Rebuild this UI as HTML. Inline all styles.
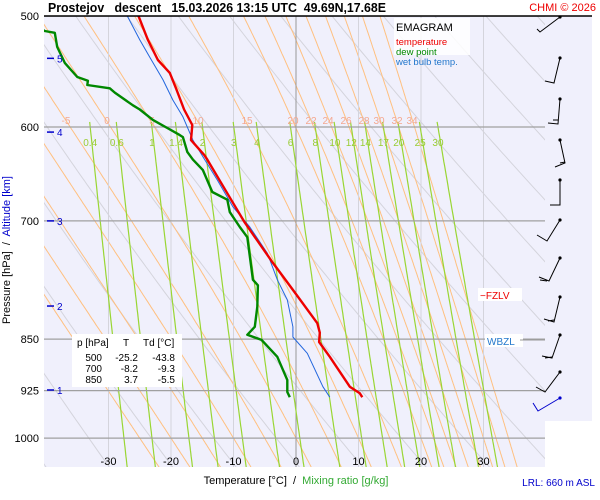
<!DOCTYPE html>
<html><head><meta charset="utf-8"><style>
body{margin:0;background:#fff;}
svg{display:block;font-family:"Liberation Sans",sans-serif;}
</style></head><body>
<svg id="c" width="600" height="500" viewBox="0 0 600 500">
<defs><clipPath id="clip"><rect x="44" y="16" width="501" height="451"/></clipPath></defs>
<rect x="44" y="16" width="501" height="451" fill="#f0f0fc"/>
<rect x="545" y="16" width="47" height="405" fill="#f0f0fc"/>
<g id="grid" clip-path="url(#clip)"></g>
<g id="series" clip-path="url(#clip)"></g>
<g id="labels"></g>
<line x1="44" y1="16" x2="592" y2="16" stroke="#000" stroke-width="1.5"/>
<text x="48" y="12" font-size="13" font-weight="bold" style="white-space:pre" textLength="338" lengthAdjust="spacingAndGlyphs">Prostejov   descent   15.03.2026 13:15 UTC  49.69N,17.68E</text>
<text x="596" y="11" font-size="11" fill="#e00" text-anchor="end">CHMI © 2026</text>
<g>
<rect x="394" y="18" width="76" height="37" fill="#fff" fill-opacity="0.85"/>
<text x="396" y="31" font-size="11">EMAGRAM</text>
<text x="396" y="45" font-size="9.5" fill="#e00">temperature</text>
<text x="396" y="55" font-size="9.5" fill="#080">dew point</text>
<text x="396" y="65" font-size="9.5" fill="#27c">wet bulb temp.</text>
</g>
<g font-size="10">
<rect x="72" y="334" width="110" height="53" fill="#fff"/>
<text x="77" y="346">p [hPa]</text><text x="123" y="346">T</text><text x="143" y="346">Td [°C]</text>
<text x="102" y="361" text-anchor="end">500</text><text x="138" y="361" text-anchor="end">-25.2</text><text x="175" y="361" text-anchor="end">-43.8</text>
<text x="102" y="372" text-anchor="end">700</text><text x="138" y="372" text-anchor="end">-8.2</text><text x="175" y="372" text-anchor="end">-9.3</text>
<text x="102" y="383" text-anchor="end">850</text><text x="138" y="383" text-anchor="end">3.7</text><text x="175" y="383" text-anchor="end">-5.5</text>
</g>
<g><rect x="478" y="288" width="44" height="13" fill="#fff"/><text x="480" y="299" font-size="10" fill="#e00">−FZLV</text></g>
<g><rect x="485" y="334" width="38" height="13" fill="#fff"/><line x1="520" y1="340" x2="545" y2="340" stroke="#999"/><text x="487" y="345" font-size="10" fill="#27c">WBZL</text></g>
<text x="10" y="250" font-size="11" transform="rotate(-90 10 250)" text-anchor="middle" style="white-space:pre">Pressure [hPa]  /  <tspan fill="#00c">Altitude [km]</tspan></text>
<text x="296" y="484" font-size="11" text-anchor="middle" style="white-space:pre">Temperature [°C]  /  <tspan fill="#3a3">Mixing ratio [g/kg]</tspan></text>
<text x="595" y="486" font-size="10" fill="#00c" text-anchor="end">LRL: 660 m ASL</text>
<g id="wind" stroke="#000" stroke-width="1" fill="none">
<path d="M560 17L540 32L537 29"/><path d="M560 58L554 83L545 81"/>
<path d="M560 99L558 124L548 123M553 120L558 120"/><path d="M560 140L565 163L555 167M560 163L565 162"/>
<path d="M560 180L560 205L550 205"/><path d="M560 220L547 241L537 235"/>
<path d="M560 258L549 281L539 277M540 280L547 281"/><path d="M560 297L554 322L544 319M548 321L554 320"/>
<path d="M560 335L552 358L542 356M545 358L552 357"/><path d="M560 372L545 392L536 387"/>
<path d="M560 398L538 411L533 403" stroke="#00c"/>
<g fill="#000" stroke="none"><circle cx="560" cy="17" r="1.6"/><circle cx="560" cy="58" r="1.6"/><circle cx="560" cy="99" r="1.6"/><circle cx="560" cy="140" r="1.6"/><circle cx="560" cy="180" r="1.6"/><circle cx="560" cy="220" r="1.6"/><circle cx="560" cy="258" r="1.6"/><circle cx="560" cy="297" r="1.6"/><circle cx="560" cy="335" r="1.6"/><circle cx="560" cy="372" r="1.6"/><circle cx="560" cy="398" r="1.6" fill="#00c"/></g>
</g>
</svg>
<script>
// ---- data ----
const tempP=[500,520,537.5,549,563,583,598,613,628,633,669,702,750,784,828,841,854,875,919,929,935];
const tempT=[-25.2,-23.7,-22.1,-20.2,-19.2,-17.9,-16.6,-16.8,-14.7,-14.2,-11.0,-8.2,-3.7,-0.5,3.4,3.8,3.7,5.4,8.6,10.2,10.6];
const dewP=[500,512.5,514,526,540,552.7,556,560,563,567,579,583,593,601,608,610,625,633,644,667.5,676,690,707,719,771,778,806,833,844,851,875,909,927,935];
const dewT=[-43.8,-40.2,-38.6,-38.2,-37.0,-35.0,-33.3,-33.4,-29.8,-29.0,-26.1,-25.0,-22.9,-20.6,-18.6,-18.1,-17.4,-16.5,-14.9,-13.4,-11.0,-10.6,-9.0,-7.8,-6.9,-6.1,-6.2,-6.6,-7.8,-5.5,-3.0,-1.4,-1.4,-1.0];
const wbP=[500,520,535,555,574,590,613,630,654.5,684,707,738,771,797,833,847,870,919,935];
const wbT=[-27.0,-25.0,-23.4,-21.3,-19.7,-18.1,-16.5,-14.9,-12.6,-10.1,-7.4,-4.6,-3.0,-1.4,-0.5,-0.5,1.8,4.3,5.4];
const isobars=[500,600,700,850,925,1000];
const isotherms=[-30,-20,-10,0,10,20,30];
const altKm=[5,4,3,2,1];
const altP=[536,605,700,805,924];
const mixRatios=[0.4,0.6,1,1.4,2,3,4,6,8,10,12,14,17,20,25,30];
const moistLabels=[-5,0,5,10,15,20,22,24,26,28,30,32,34];
const moistLabelX=[66,107,152,198,247,293,311,328,346,364,379,397,412];
const moistThetaW=[-25,-20,-15,-10,-5,0,5,10,15,20,22,24,26,28,30,32,34];
const dryTheta=[];for(let t=230;t<=420;t+=10)dryTheta.push(t);
// ---- scales ----
const x=T=>296+6.25*T;
const y=p=>16+609*Math.log(p/500);
const NS='http://www.w3.org/2000/svg';
function mk(tag,parent,attrs){const e=document.createElementNS(NS,tag);for(const k in attrs)e.setAttribute(k,attrs[k]);document.getElementById(parent).appendChild(e);return e;}
function es(T){return 6.112*Math.exp(17.67*T/(T+243.5));}
const pr=[];for(let p=480;p<=1060;p+=5)pr.push(p);
// dry adiabats
dryTheta.forEach(th=>{const d=pr.map((p,i)=>(i?'L':'M')+x(th*Math.pow(p/1000,0.2857)-273.15).toFixed(1)+' '+y(p).toFixed(1)).join('');
const e=mk('path','grid',{d:d,stroke:'#d4d4dc','stroke-width':1,fill:'none'});

});
// moist adiabats
function moist(tw){const pts={};let T=tw+273.15;const step=-2;
 const f=(p,T)=>{const rs=0.622*es(T-273.15)/(p-es(T-273.15));const L=2.5e6,Rd=287,cp=1005;
  return (Rd*T+L*rs)/(cp+L*L*rs*0.622/(Rd*T*T))/p;};
 let p=1000;pts[1000]=T;
 while(p>470){T+=f(p,T)*step;p+=step;pts[p]=T;}
 p=1000;T=tw+273.15;while(p<1070){T+=f(p,T)*2;p+=2;pts[p]=T;}
 return Object.keys(pts).map(Number).sort((a,b)=>a-b).map(q=>[q,pts[q]-273.15]);}
moistThetaW.forEach(tw=>{const d=moist(tw).map((v,i)=>(i?'L':'M')+x(v[1]).toFixed(1)+' '+y(v[0]).toFixed(1)).join('');
const e=mk('path','grid',{d:d,stroke:'#ffc080','stroke-width':1,fill:'none'});

});
// isotherms
isotherms.forEach(t=>{const e=mk('line','grid',{x1:x(t),x2:x(t),y1:16,y2:467,stroke:t===0?'#999':'#d4d4dc','stroke-width':1});


const l=mk('text','labels',{x:x(t),y:465,'font-size':11,'text-anchor':'middle'});l.textContent=t;

});
// mixing ratio lines
mixRatios.forEach(w=>{const pts=[];for(let p=595;p<=1060;p+=5){const e=w*p/(622+w);const ln=Math.log(e/6.112);const T=243.5*ln/(17.67-ln);pts.push([p,T]);}
const d=pts.map((v,i)=>(i?'L':'M')+x(v[1]).toFixed(1)+' '+y(v[0]).toFixed(1)).join('');
const e=mk('path','grid',{d:d,stroke:'#99d633','stroke-width':1.2,fill:'none'});


const e6=w*600/(622+w),ln=Math.log(e6/6.112),T6=243.5*ln/(17.67-ln);
const l=mk('text','grid',{x:x(T6),y:146,'font-size':10,fill:'#99cc33','text-anchor':'middle'});l.textContent=w;

});
moistLabels.forEach((v,i)=>{const l=mk('text','grid',{x:moistLabelX[i],y:124,'font-size':10,fill:'#f4a890','text-anchor':'middle'});l.textContent=v;

});
// isobars
isobars.forEach(p=>{const e=mk('line','grid',{x1:44,x2:545,y1:y(p),y2:y(p),stroke:'#a0a0a0','stroke-width':1.2});


const l=mk('text','labels',{x:39,y:y(p)+4,'font-size':11,'text-anchor':'end'});l.textContent=p;

});
altKm.forEach((k,i)=>{const yy=y(altP[i]);const t=mk('line','labels',{x1:47,x2:54,y1:yy,y2:yy,stroke:'#00c','stroke-width':1.5});


const l=mk('text','labels',{x:57,y:yy+4,'font-size':10,fill:'#00c'});l.textContent=k;

});
// series
function line(P,T,col,w,name){const d=P.map((p,i)=>(i?'L':'M')+x(T[i]).toFixed(1)+' '+y(p).toFixed(1)).join('');
const e=mk('path','series',{d:d,stroke:col,'stroke-width':w,fill:'none','stroke-linejoin':'round'});

}
line(wbP,wbT,'#2266dd',1,'wet-bulb-line');
line(dewP,dewT,'#008800',2.4,'dewpoint-line');
line(tempP,tempT,'#ee0000',2.4,'temperature-line');
</script>
</body></html>
